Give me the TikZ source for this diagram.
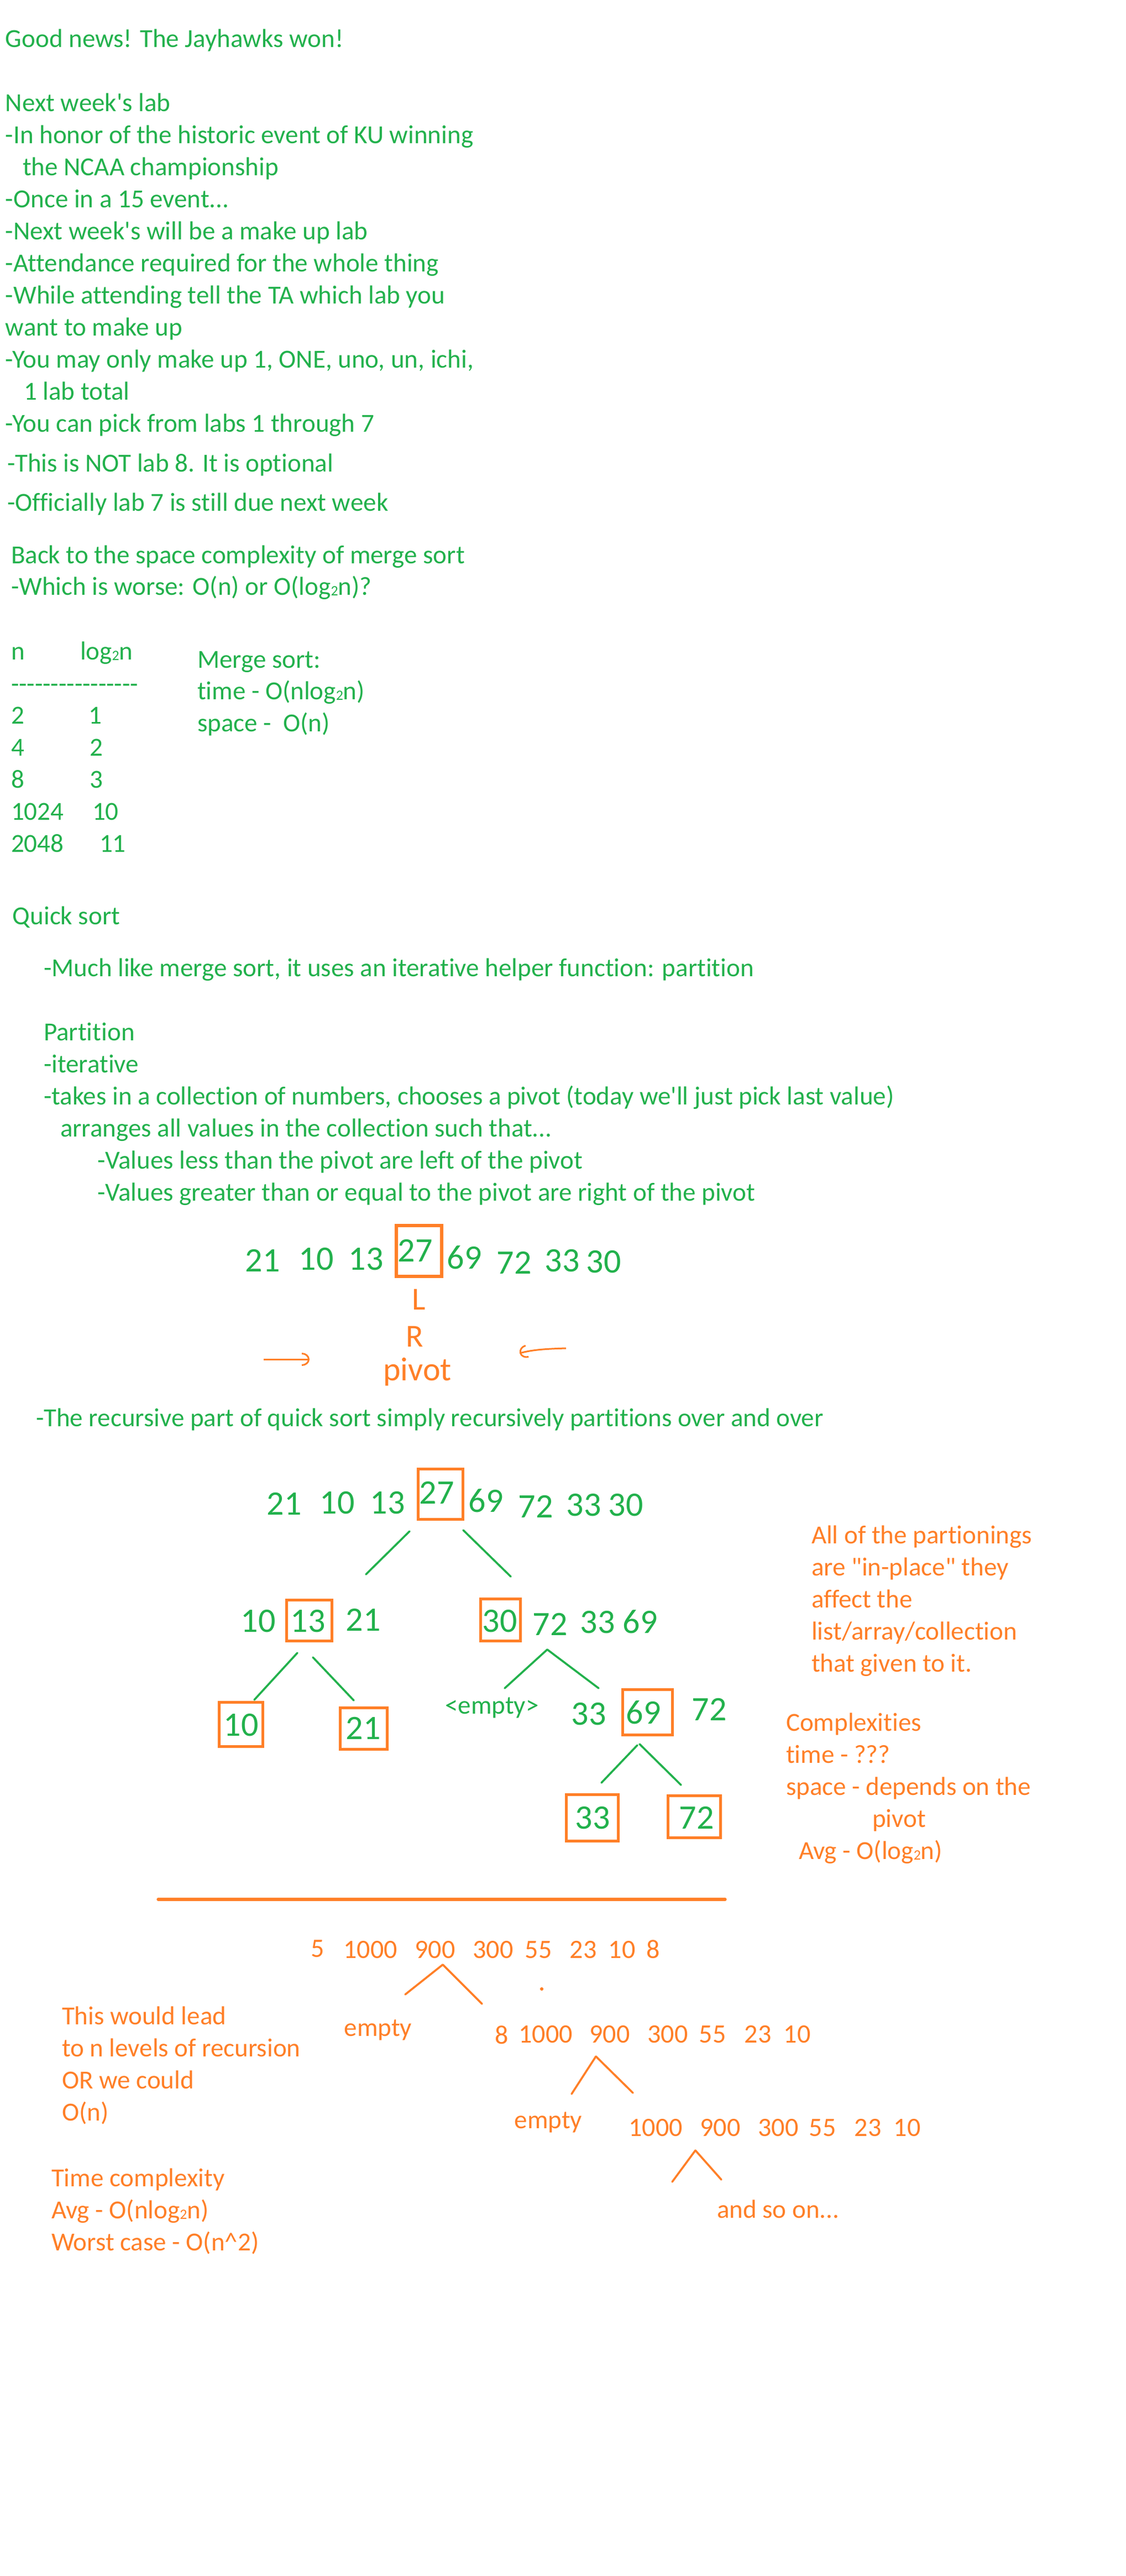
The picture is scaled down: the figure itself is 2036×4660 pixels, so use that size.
\documentclass[tikz,border=0pt]{standalone}
\usepackage{fontspec}
\usepackage{graphicx}
\newfontfamily\notefont{Carlito}[Ligatures=CommonOff]
\usetikzlibrary{arrows.meta}

\definecolor{qgreen}{RGB}{34,177,76}
\definecolor{qorange}{RGB}{255,127,39}

% small subscript two, as in log2
\newcommand{\subtwo}{\raisebox{-0.04em}{\scalebox{0.55}{2}}}

\tikzset{
  txt/.style={anchor=base west, inner sep=0pt, outer sep=0pt,
    font=\notefont\fontsize{23.5}{28}\selectfont, text=qgreen},
  otxt/.style={txt, text=qorange},
  num/.style={anchor=base, inner sep=0pt, outer sep=0pt,
    font=\notefont\fontsize{31}{36}\selectfont, text=qgreen},
  onum/.style={num, font=\notefont\fontsize{24}{28}\selectfont, text=qorange},
  pivbox/.style 2 args={draw=qorange, line width=2.6pt, inner sep=0pt,
    minimum width=#1, minimum height=#2},
  branch/.style={qgreen, line width=1.8pt},
  obranch/.style={qorange, line width=1.8pt},
  hand/.style={qorange, line width=1.5pt, -{Arc Barb[length=7pt,width=12pt]}}
}

\begin{document}
\begin{tikzpicture}[x=.5pt,y=-.5pt]

            % Page, same size as the notes
            \fill[white] (0,0) rectangle (2036,4660);
            \useasboundingbox (0,0) rectangle (2036,4660);

            % Announcements (loop)
            \node[txt] (news) at (10,85) {Good news! The Jayhawks won!};
            \foreach \dx/\txt [count=\k from 0] in {0/{Next week's lab},
                0/{-In honor of the historic event of KU winning},
                31/{the NCAA championship}, 0/{-Once in a 15 event...},
                0/{-Next week's will be a make up lab},
                0/{-Attendance required for the whole thing},
                0/{-While attending tell the TA which lab you},
                0/{want to make up},
                0/{-You may only make up 1, ONE, uno, un, ichi,},
                33/{1 lab total}, 0/{-You can pick from labs 1 through 7}}
                \node[txt] (lab\k) at (10+\dx,201+58*\k) {\txt};
            \node[txt] (notlab) at (13,853) {-This is NOT lab 8. It is optional};
            \node[txt] (due) at (13,924) {-Officially lab 7 is still due next week};

            % Space complexity of merge sort
            \node[txt] (back) at (20,1019) {Back to the space complexity of merge sort};
            \node[txt] (worse) at (20,1076) {-Which is worse: O(n) or O(log\subtwo n)?};

            % Table of n and log n (loop)
            \node[txt] (hn) at (20,1193) {n};
            \node[txt] (hlg) at (145,1193) {log\subtwo n};
            \node[txt] (rule) at (20,1252) {----------------};
            \foreach \n/\lg/\lx [count=\k from 0] in {2/1/160, 4/2/162, 8/3/162,
                1024/10/167, 2048/11/180} {
                \node[txt] (n\k) at (20,1309+58*\k) {\n};
                \node[txt] (lg\k) at (\lx,1309+58*\k) {\lg};
            }
            \node[txt] (ms) at (357,1208) {Merge sort:};
            \node[txt] (mstime) at (357,1265) {time - O(nlog\subtwo n)};
            \node[txt] (msspace) at (357,1323) {space -\ \ O(n)};

            % Quick sort and partition
            \node[txt] (qs) at (23,1672) {Quick sort};
            \node[txt] (much) at (79,1766) {-Much like merge sort, it uses an iterative helper function: partition};
            \foreach \dx/\txt [count=\k from 0] in {0/{Partition}, 0/{-iterative},
                0/{-takes in a collection of numbers, chooses a pivot (today we'll just pick last value)},
                30/{arranges all values in the collection such that...},
                97/{-Values less than the pivot are left of the pivot},
                97/{-Values greater than or equal to the pivot are right of the pivot}}
                \node[txt] (part\k) at (79+\dx,1882+58*\k) {\txt};

            % One partition step
            \foreach \v/\cx/\by in {21/475/2300, 10/572/2297, 13/662/2297, 27/751/2282,
                69/840/2295, 72/930/2304, 33/1017/2300, 30/1092/2302}
                \node[num] (pr\v) at (\cx,\by) {\v};
            \node[pivbox={41pt}{46pt}] (prbox) at (758,2263) {};
            \node[num, text=qorange, font=\notefont\fontsize{29}{34}\selectfont] (lmark) at (758,2369) {L};
            \node[num, text=qorange, font=\notefont\fontsize{29}{34}\selectfont] (rmark) at (750,2436) {R};
            \node[num, text=qorange, font=\notefont\fontsize{30}{34}\selectfont] (pivot) at (755,2497) {pivot};
            \coordinate (la0) at (477,2459);
            \coordinate (la1) at (560,2459);
            \coordinate (ra0) at (1024,2439);
            \coordinate (ra1) at (940,2448);
            \draw[hand] (la0) -- (la1);
            \draw[hand] (ra0) .. controls (985,2440) and (962,2442) .. (ra1);

            \node[txt] (recur) at (65,2580) {-The recursive part of quick sort simply recursively partitions over and over};

            % Recursion tree, one row at a time (loops)
            \foreach \v/\cx/\by in {21/514/2740, 10/610/2738, 13/701/2738, 27/790/2720,
                69/879/2735, 72/969/2745, 33/1056/2742, 30/1132/2742}
                \node[num] (ra\v) at (\cx,\by) {\v};
            \foreach \v/\cx/\by in {10/467/2952, 13/557/2952, 21/657/2950,
                30/904/2952, 72/995/2958, 33/1081/2954, 69/1158/2954}
                \node[num] (rb\v) at (\cx,\by) {\v};
            \foreach \v/\cx/\by in {10/436/3140, 21/657/3146, 33/1065/3120,
                69/1164/3118, 72/1283/3112}
                \node[num] (rc\v) at (\cx,\by) {\v};
            \node[txt, anchor=base] (empty) at (890,3100) {<empty>};
            \node[num] (rd33) at (1072,3308) {33};
            \node[num] (rd72) at (1260,3308) {72};

            % Pivot boxes
            \node[pivbox={40.5pt}{45.5pt}] (box27) at (797,2703) {};
            \node[pivbox={41pt}{37pt}] (box13) at (559.5,2931.5) {};
            \node[pivbox={36pt}{38pt}] (box30) at (905.5,2930.5) {};
            \node[pivbox={39.5pt}{40pt}] (box10) at (436,3119.5) {};
            \node[pivbox={42.5pt}{37.5pt}] (box21) at (658,3127) {};
            \node[pivbox={45pt}{41pt}] (box69) at (1171.5,3097.5) {};
            \node[pivbox={47pt}{42pt}] (box33) at (1071.5,3288.5) {};
            \node[pivbox={47.5pt}{38pt}] (box72) at (1256,3286.5) {};

            % Branches (loop)
            \foreach \ax/\ay/\bx/\by [count=\i] in {741/2770/662/2848, 838/2768/924/2852,
                538/2990/460/3075, 566/2998/640/3076, 990/2984/913/3054,
                990/2984/1083/3054, 1153/3157/1088/3225, 1157/3155/1232/3229} {
                \coordinate (bt\i) at (\ax,\ay);
                \coordinate (bb\i) at (\bx,\by);
                \draw[branch, line cap=round] (bt\i) -- (bb\i);
            }

            % Notes on the right
            \foreach \txt [count=\k from 0] in {{All of the partionings},
                {are "in-place" they}, {affect the}, {list/array/collection},
                {that given to it.}}
                \node[otxt] (inpl\k) at (1468,2792+58*\k) {\txt};
            \foreach \nx/\txt [count=\k from 0] in {1422/{Complexities},
                1422/{time - ???}, 1422/{space - depends on the}, 1578/{pivot},
                1445/{Avg - O(log\subtwo n)}}
                \node[otxt] (cplx\k) at (\nx,3131+58*\k) {\txt};

            % Separator
            \coordinate (sep0) at (286,3436);
            \coordinate (sep1) at (1312,3436);
            \draw[qorange, line width=2.6pt, line cap=round] (sep0) -- (sep1);

            % Worst case, sorted the wrong way
            \foreach \v/\cx/\by in {5/575/3540, 1000/670/3542, 900/787/3542, 300/892/3542,
                55/974/3542, 23/1055/3542, 10/1125/3542, 8/1182/3542}
                \node[onum] (wa\v) at (\cx,\by) {\v};
            \node[circle, fill=qorange, inner sep=1.1pt] (stray) at (980,3598) {};
            \node[otxt, anchor=base] (empa) at (684,3683) {empty};
            \foreach \v/\cx/\by in {8/908/3697, 1000/987/3695, 900/1103/3695, 300/1208/3695,
                55/1289/3695, 23/1371/3695, 10/1442/3695}
                \node[onum] (wb\v) at (\cx,\by) {\v};
            \node[otxt, anchor=base] (empb) at (992,3850) {empty};
            \foreach \v/\cx/\by in {1000/1186/3864, 900/1303/3864, 300/1408/3864,
                55/1488/3864, 23/1570/3864, 10/1641/3864}
                \node[onum] (wc\v) at (\cx,\by) {\v};
            \node[otxt] (soon) at (1297,4012) {and so on...};

            % Orange branches (loop)
            \foreach \ax/\ay/\bx/\by [count=\i] in {801/3554/733/3608, 801/3554/872/3625,
                1078/3720/1034/3788, 1078/3720/1145/3786,
                1258/3890/1216/3947, 1258/3890/1305/3943} {
                \coordinate (ot\i) at (\ax,\ay);
                \coordinate (ob\i) at (\bx,\by);
                \draw[obranch, line cap=round] (ot\i) -- (ob\i);
            }

            % Notes on the left
            \foreach \txt [count=\k from 0] in {{This would lead},
                {to n levels of recursion}, {OR we could}, {O(n)}}
                \node[otxt] (lead\k) at (112,3662+58*\k) {\txt};
            \foreach \txt [count=\k from 0] in {{Time complexity},
                {Avg - O(nlog\subtwo n)}, {Worst case - O(n\textasciicircum 2)}}
                \node[otxt] (tc\k) at (93,3955+58*\k) {\txt};

        \end{tikzpicture}
\end{document}
